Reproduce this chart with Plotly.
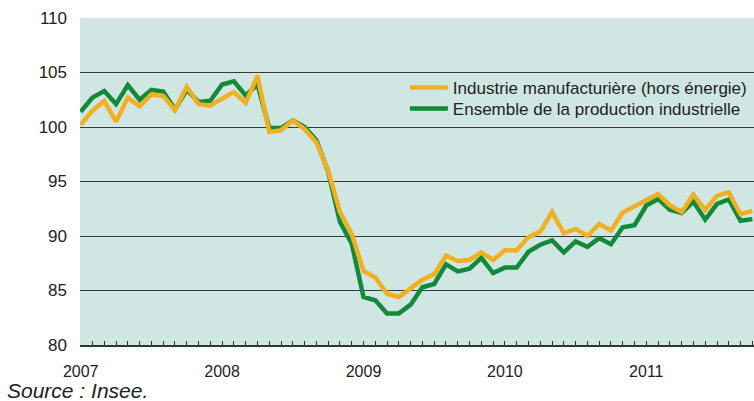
import plotly.graph_objects as go

years = [2007, 2008, 2009, 2010, 2011]
months = [f"{y}-{m:02d}" for y in years for m in range(1, 13)][:58]
tick_text = [m[:4] if m.endswith("-01") else "" for m in months]

manuf = [100.2, 101.5, 102.4, 100.5, 102.7, 101.9, 103.0, 102.85, 101.55, 103.7,
         102.1, 101.95, 102.6, 103.2, 102.2, 104.7, 99.55, 99.7, 100.6, 99.8,
         98.6, 96.0, 92.2, 90.2, 86.8, 86.2, 84.7, 84.4, 85.2, 86.0,
         86.5, 88.2, 87.7, 87.8, 88.5, 87.8, 88.7, 88.7, 89.9, 90.4,
         92.2, 90.25, 90.65, 90.0, 91.1, 90.5, 92.15, 92.75, 93.3, 93.85,
         92.8, 92.2, 93.8, 92.4, 93.7, 94.0, 92.0, 92.3]

ensemble = [101.4, 102.7, 103.3, 102.1, 103.85, 102.5, 103.4, 103.25, 101.6, 103.4,
            102.3, 102.4, 103.9, 104.2, 102.9, 103.9, 99.9, 99.9, 100.6, 100.0,
            98.8, 95.9, 91.3, 89.3, 84.4, 84.1, 82.9, 82.9, 83.7, 85.3,
            85.6, 87.4, 86.75, 87.0, 88.0, 86.6, 87.1, 87.1, 88.55, 89.2,
            89.6, 88.5, 89.5, 89.0, 89.8, 89.25, 90.8, 91.0, 92.8, 93.4,
            92.4, 92.1, 93.15, 91.5, 92.95, 93.35, 91.4, 91.55]

name_manuf = "Industrie manufacturière (hors énergie)"
name_ens = "Ensemble de la production industrielle"
source_text = "Source : Insee."

FONT = "Liberation Sans, Arial, sans-serif"
legend_font = dict(size=17, family=FONT, color="#222")

fig = go.Figure()
fig.add_trace(go.Scatter(x=months, y=ensemble, mode="lines", name=name_ens,
                         line=dict(color="#13893a", width=4.5), legend="legend2"))
fig.add_trace(go.Scatter(x=months, y=manuf, mode="lines", name=name_manuf,
                         line=dict(color="#f0b021", width=4.5), legend="legend"))

fig.update_layout(
    width=754, height=401,
    autosize=False,
    margin=dict(l=80, r=0, t=18, b=56, pad=0, autoexpand=False),
    paper_bgcolor="white",
    plot_bgcolor="#cfe6e2",
    font=dict(family=FONT, color="#222"),
    showlegend=True,
    legend=dict(x=0.482, y=0.786, xanchor="left", yanchor="middle",
                bgcolor="rgba(0,0,0,0)", font=legend_font, itemwidth=38),
    legend2=dict(x=0.482, y=0.722, xanchor="left", yanchor="middle",
                 bgcolor="rgba(0,0,0,0)", font=legend_font, itemwidth=38),
    xaxis=dict(type="category", range=[-0.06, 57.14], automargin=False,
               tickmode="array", tickvals=months, ticktext=tick_text,
               ticks="inside", ticklen=4, tickcolor="#333", tickwidth=1,
               showgrid=False, showline=True, linecolor="#333", linewidth=2,
               tickfont=dict(size=16, family=FONT, color="#222"),
               ticklabelstandoff=11, zeroline=False),
    yaxis=dict(range=[80, 110], dtick=5, tick0=80, automargin=False,
               showgrid=True, gridcolor="#3a3a3a", gridwidth=1,
               showline=False, zeroline=False, ticks="",
               tickfont=dict(size=17, family=FONT, color="#222"),
               ticklabelstandoff=12),
    annotations=[dict(text=source_text, xref="paper", yref="paper",
                      x=-0.111, y=-0.14, xanchor="left", yanchor="middle",
                      showarrow=False,
                      font=dict(size=21, family=FONT, color="#222", style="italic"))],
)

fig.write_html("out.html", config={"displayModeBar": False},
               post_script="document.body.style.margin='0';")
